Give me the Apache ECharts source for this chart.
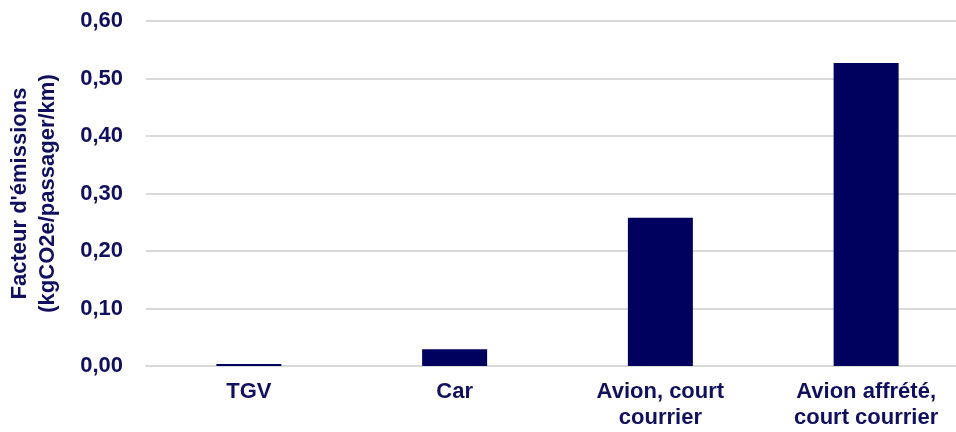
<!DOCTYPE html>
<html>
<head>
<meta charset="utf-8">
<script src="https://cdn.jsdelivr.net/npm/echarts@6/dist/echarts.min.js"></script>
<style>
  html, body { margin: 0; padding: 0; background: #ffffff; }
  #chart { width: 956px; height: 432px; }
</style>
</head>
<body>
<div id="chart"></div>
<script>
// Emission factors per transport mode (kgCO2e / passenger / km)
const categories = ['TGV', 'Car', 'Avion, court\ncourrier', 'Avion affrété,\ncourt courrier'];
const emissions = [0.0033, 0.029, 0.258, 0.527];
const yTicks = { min: 0, max: 0.6, interval: 0.1 };
const yName = "Facteur d'émissions\n(kgCO2e/passager/km)";

const navy = '#00005e';
const textNavy = '#10105e';
const font = '"Liberation Sans", Arial, sans-serif';

const chart = echarts.init(document.getElementById('chart'), null, { renderer: 'canvas' });
chart.setOption({
  backgroundColor: '#ffffff',
  animation: false,
  grid: { left: 146, right: -13, top: 21, bottom: 66, containLabel: false, outerBoundsMode: 'none' },
  xAxis: {
    type: 'category',
    data: categories,
    axisLine: { show: true, lineStyle: { color: '#d9d9d9', width: 2 } },
    axisTick: { show: false },
    axisLabel: {
      color: textNavy, fontFamily: font, fontWeight: 'bold', fontSize: 22,
      lineHeight: 26, margin: 13, interval: 0
    }
  },
  yAxis: {
    type: 'value',
    min: yTicks.min, max: yTicks.max, interval: yTicks.interval,
    name: yName,
    nameLocation: 'middle',
    nameRotate: 90,
    nameGap: 84,
    nameTextStyle: {
      color: textNavy, fontFamily: font, fontWeight: 'bold', fontSize: 22, lineHeight: 28
    },
    axisLine: { show: false },
    axisTick: { show: false },
    splitLine: { lineStyle: { color: '#d9d9d9', width: 2 } },
    axisLabel: {
      color: textNavy, fontFamily: font, fontWeight: 'bold', fontSize: 22, margin: 23,
      formatter: v => v.toFixed(2).replace('.', ',')
    }
  },
  series: [{
    type: 'bar',
    data: emissions,
    barWidth: 65,
    itemStyle: { color: navy }
  }]
});
</script>
</body>
</html>
